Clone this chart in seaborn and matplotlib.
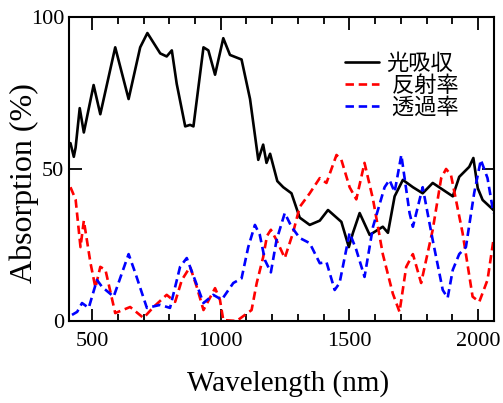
import matplotlib
matplotlib.use("Agg")
import matplotlib.pyplot as plt
import seaborn as sns
from matplotlib.ticker import MultipleLocator

# absorption (black)
abs_wl = [416, 429, 436, 452, 468, 506, 532, 590, 642, 687, 715, 765, 790, 810,
          829, 862, 881, 894, 933, 952, 978, 1010, 1036, 1081, 1114, 1146, 1165,
          1178, 1192, 1220, 1243, 1275, 1307, 1346, 1385, 1417, 1469, 1498, 1514,
          1540, 1579, 1630, 1650, 1676, 1708, 1747, 1785, 1824, 1902, 1927, 1966,
          1982, 1999, 2018, 2060]
abs_val = [58.5, 54, 57, 70, 62, 77.6, 68, 90, 73, 90, 94.7, 88, 87, 89,
           78, 64, 64.5, 64, 90, 89, 81, 93, 87.5, 86, 73, 53, 58,
           52, 55, 46, 44, 42, 34, 31.6, 33, 36.5, 32.6, 24.3, 29,
           35.5, 28.3, 31, 29, 41, 46.4, 44, 42, 45.4, 41, 47.4, 50.7,
           53.6, 43.7, 39.8, 36.5]

# reflectance (red)
ref_wl = [416, 436, 455, 468, 494, 513, 532, 552, 590, 648, 700, 739, 790, 823,
          849, 881, 907, 933, 978, 997, 1010, 1062, 1120, 1140, 1165, 1180, 1195,
          1217, 1249, 1281, 1307, 1346, 1385, 1411, 1450, 1469, 1501, 1527, 1559,
          1592, 1630, 1669, 1695, 1721, 1747, 1779, 1824, 1857, 1876, 1895, 1940,
          1979, 2005, 2037, 2060]
ref_val = [44, 40, 24.3, 33, 19, 11, 17.8, 16.8, 2.6, 4.6, 1, 4.6, 8.6, 6.3,
           13.5, 17.8, 11.2, 3.6, 10.8, 7, 0.3, 0, 3.6, 12.5, 21, 28, 30,
           26.6, 20.7, 29, 37.5, 42, 47, 45.4, 54.6, 53, 44, 40, 52,
           40, 22, 9, 3, 17.8, 22, 12.5, 30, 47, 50, 48, 29,
           8, 6.3, 13.5, 26.6]

# transmittance (blue)
tra_wl = [422, 442, 461, 487, 519, 539, 584, 642, 668, 713, 765, 803, 842, 868,
          900, 933, 971, 1004, 1049, 1081, 1107, 1133, 1152, 1172, 1195, 1217,
          1249, 1275, 1307, 1346, 1385, 1411, 1443, 1462, 1501, 1527, 1559, 1592,
          1637, 1656, 1676, 1702, 1734, 1747, 1785, 1824, 1863, 1882, 1902, 1927,
          1953, 1985, 2011, 2037, 2060]
tra_val = [2, 3, 5.9, 4.3, 13.5, 11.2, 8, 22, 15.8, 4.3, 5.3, 4.3, 17.8, 20.7,
           13.5, 5.9, 8.6, 7, 12.5, 14, 24.3, 31.6, 28.3, 20, 16, 26.6,
           35.5, 31, 27.3, 25.6, 19, 19.4, 10.2, 12.5, 29, 23.4, 14.5, 31,
           44, 46.4, 42.4, 54.6, 35.5, 31, 44, 26.6, 10.2, 7.6, 16.8, 22,
           24.3, 42, 53, 47, 35.5]

labels = ["光吸収", " 反射率", " 透過率"]

sns.set_style("ticks")
plt.rcParams["font.family"] = ["Liberation Serif", "DejaVu Serif"]
plt.rcParams["text.color"] = "black"
plt.rcParams["axes.labelcolor"] = "black"

fig = plt.figure(figsize=(5.03, 4.03), dpi=100)
ax = fig.add_axes([0.137, 0.2035, 0.845, 0.7545])

sns.lineplot(x=abs_wl, y=abs_val, ax=ax, color="black", lw=1.9,
             estimator=None, label=labels[0])
sns.lineplot(x=ref_wl, y=ref_val, ax=ax, color="#ff0000", lw=1.9,
             estimator=None, label=labels[1])
sns.lineplot(x=tra_wl, y=tra_val, ax=ax, color="#0000ff", lw=1.9,
             estimator=None, label=labels[2])
ax.lines[1].set_dashes([3.2, 1.8])
ax.lines[2].set_dashes([3.2, 1.8])

ax.set_xlim(410, 2062)
ax.set_ylim(0, 100)
ax.xaxis.set_major_locator(MultipleLocator(500))
ax.xaxis.set_minor_locator(MultipleLocator(100))
ax.yaxis.set_major_locator(MultipleLocator(50))
ax.tick_params(which="both", direction="in", top=True, right=True,
               width=1.3, colors="black", labelsize=16)
ax.tick_params(which="major", length=9)
ax.tick_params(which="minor", length=5)
ax.tick_params(axis="x", which="both", pad=8)
for s in ax.spines.values():
    s.set_linewidth(1.5)
    s.set_color("black")

ax.set_xlabel("Wavelength (nm)", fontsize=21)
ax.set_ylabel("Absorption (%)", fontsize=23)
ax.xaxis.set_label_coords(0.516, -0.16)
ax.yaxis.set_label_coords(-0.07, 0.452)

leg = ax.legend(loc="upper right", bbox_to_anchor=(0.937, 0.915), frameon=False,
                prop={"family": ["Noto Sans CJK JP", "DejaVu Sans"], "size": 16},
                handlelength=1.5, handletextpad=0.36, labelspacing=-0.04,
                borderaxespad=0)
for h in leg.get_lines()[1:]:
    h.set_dashes([3.2, 1.8])

fig.savefig("out.png", dpi=100)
